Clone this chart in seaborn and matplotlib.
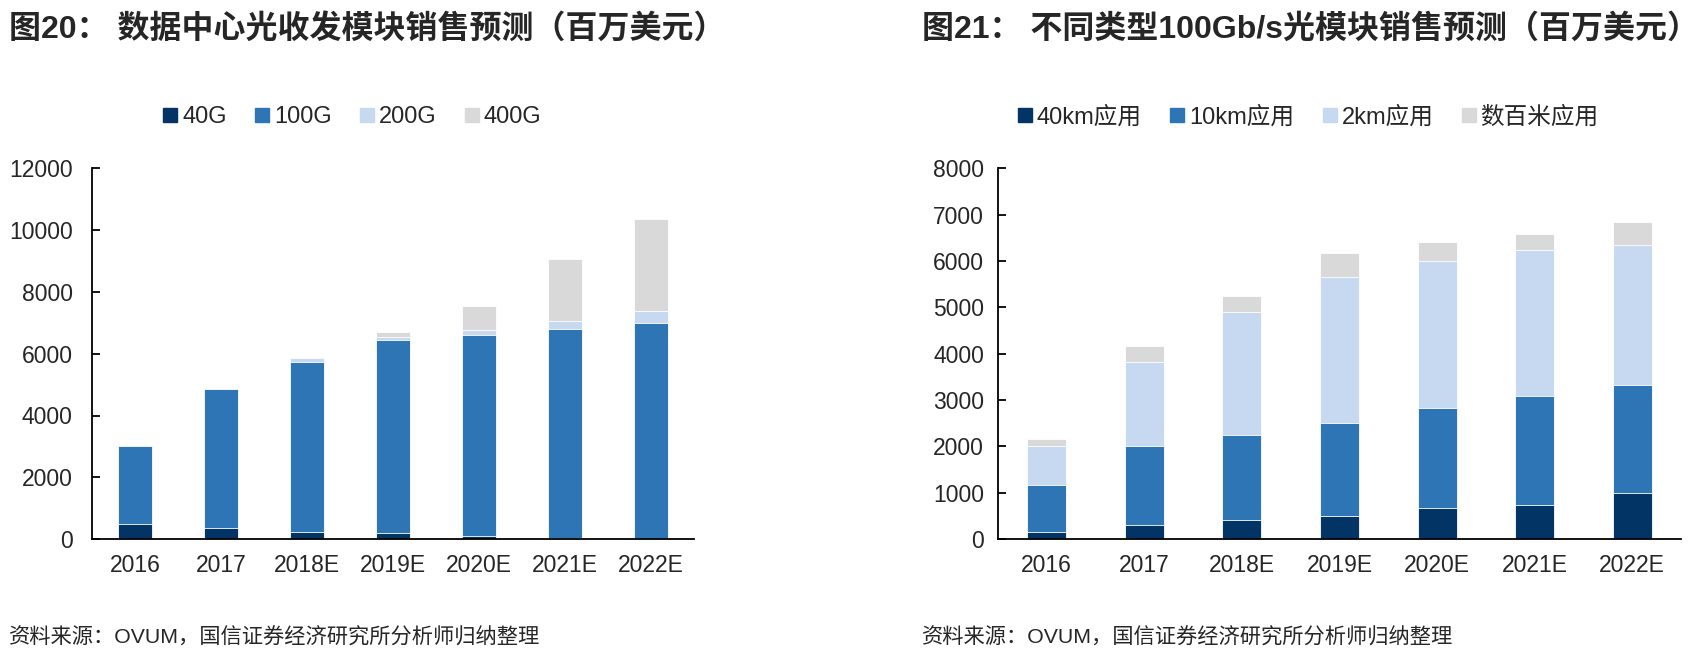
import numpy as np
import seaborn as sns
import matplotlib.pyplot as plt
from matplotlib.lines import Line2D

sns.set_style("white")
plt.rcParams['font.family'] = ['Liberation Sans', 'Noto Sans CJK SC']

years = ["2016", "2017", "2018E", "2019E", "2020E", "2021E", "2022E"]

# left chart: data center transceiver sales (USD mn)
dc_labels = ["40G", "100G", "200G", "400G"]
dc_40g = [490, 350, 240, 190, 90, 20, 0]
dc_100g = [2510, 4520, 5500, 6250, 6510, 6770, 6990]
dc_200g = [0, 0, 110, 100, 160, 260, 400]
dc_400g = [0, 0, 0, 160, 780, 2010, 2990]

# right chart: 100Gb/s modules by reach (USD mn)
reach_labels = ["40km应用", "10km应用", "2km应用", "数百米应用"]
r_40km = [150, 310, 400, 500, 660, 730, 1000]
r_10km = [1010, 1690, 1840, 2000, 2170, 2350, 2320]
r_2km = [840, 1830, 2670, 3160, 3170, 3170, 3020]
r_short = [165, 345, 340, 510, 420, 340, 500]

colors = ["#023565", "#2E75B6", "#C6D9F0", "#D9D9D9"]


def stacked(ax, series, yticks, ypad):
    cum = np.cumsum(np.array(series, dtype=float), axis=0)
    # draw from the tallest cumulative layer down so each segment shows
    for i in range(len(series) - 1, -1, -1):
        sns.barplot(x=years, y=cum[i], color=colors[i], saturation=1,
                    width=0.4, edgecolor="white", linewidth=0.6, ax=ax)
    ax.set_xlim(-0.5, len(years) - 0.5)
    ax.set_ylim(yticks[0], yticks[-1])
    ax.set_yticks(yticks)
    ax.set_xlabel("")
    ax.set_ylabel("")
    for s in ["top", "right"]:
        ax.spines[s].set_visible(False)
    for s in ["left", "bottom"]:
        ax.spines[s].set_color("black")
        ax.spines[s].set_linewidth(1.3)
    ax.set_xticks(np.arange(len(years) + 1) - 0.5, minor=True)
    ax.tick_params(axis="x", which="major", length=0, pad=11, labelsize=16.5)
    ax.tick_params(axis="x", which="minor", direction="in", length=6,
                   width=1.3, color="black")
    ax.tick_params(axis="y", direction="in", length=6, width=1.3,
                   color="black", pad=ypad, labelsize=16.5, left=True)


fig = plt.figure(figsize=(17.05, 6.59), dpi=100)
ax1 = fig.add_axes([92 / 1705, 1 - 539 / 659, 602 / 1705, 370.5 / 659])
ax2 = fig.add_axes([998 / 1705, 1 - 539 / 659, 683 / 1705, 370.5 / 659])

stacked(ax1, [dc_40g, dc_100g, dc_200g, dc_400g], np.arange(0, 12001, 2000), 14)
stacked(ax2, [r_40km, r_10km, r_2km, r_short], np.arange(0, 8001, 1000), 10)


def legend(x, labels):
    handles = [Line2D([], [], marker="s", linestyle="none", markersize=10,
                      color=c) for c in colors]
    fig.legend(handles, labels, loc="center", bbox_to_anchor=(x, 1 - 117 / 659),
               ncol=4, frameon=False, fontsize=17, handletextpad=0.0,
               columnspacing=1.0, handlelength=1.0)


legend(350 / 1705, dc_labels)
legend(1306 / 1705, reach_labels)

fig.text(9 / 1705, 1 - 29 / 659, "图20： 数据中心光收发模块销售预测（百万美元）",
         fontsize=23, weight="bold", va="center")
fig.text(922 / 1705, 1 - 29 / 659, "图21： 不同类型100Gb/s光模块销售预测（百万美元）",
         fontsize=23, weight="bold", va="center")
fig.text(9 / 1705, 1 - 637 / 659, "资料来源：OVUM，国信证券经济研究所分析师归纳整理",
         fontsize=15.3, va="center")
fig.text(922 / 1705, 1 - 637 / 659, "资料来源：OVUM，国信证券经济研究所分析师归纳整理",
         fontsize=15.3, va="center")

fig.savefig("out.png", dpi=100)
